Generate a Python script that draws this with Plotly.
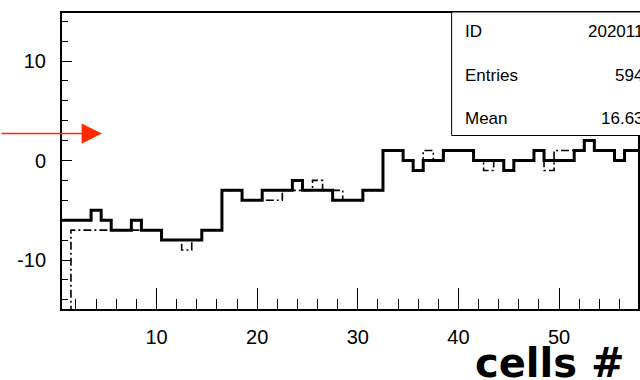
import numpy as np
import plotly.graph_objects as go

# ---- histogram contents (one value per cell, cells 1..58) ----
cells = np.arange(1, 59)
current_run = [
    -6, -6, -6, -5, -6, -7, -7, -6, -7, -7,
    -8, -8, -8, -8, -7, -7, -3, -3, -4, -4,
    -3, -3, -3, -2, -3, -3, -3, -4, -4, -4,
    -3, -3, 1, 1, 0, -1, 0, 0, 1, 1,
    1, 0, 0, 0, -1, 0, 0, 1, 0, 0,
    0, 1, 2, 1, 1, 0, 1, 1,
]
reference_run = [
    -16, -7, -7, -7, -7, -7, -7, -7, -7, -7,
    -8, -8, -9, -8, -7, -7, -3, -3, -4, -4,
    -4, -4, -3, -3, -3, -2, -3, -3, -4, -4,
    -3, -3, 1, 1, 0, -1, 1, 0, 1, 1,
    1, 0, -1, 0, -1, 0, 0, 1, -1, 1,
    1, 1, 2, 1, 1, 0, 1, 1,
]

# stat box rows
stat_names = ["ID", "Entries", "Mean"]
stat_values = ["2020110", "5940", "16.635"]

# x / y tick labels
x_ticks = [10, 20, 30, 40, 50]
y_ticks = [-10, 0, 10]
y_ticktext = ["-10", "0", "10"]

# ---- page geometry (pixels) ----
W, H = 640, 380
ML, MT, MB, MR = 62, 13, 71, 0
X0_PX, X_SCALE = 55.84, 10.1     # pixel of x=0 and pixels per cell
Y0_PX, Y_SCALE = 160.5, 9.95     # pixel of y=0 and pixels per unit


def paper_x(px):
    return (px - ML) / (W - ML - MR)


def paper_y(py):
    return (H - MB - py) / (H - MB - MT)


x_range = [(ML - X0_PX) / X_SCALE, (W - MR - X0_PX) / X_SCALE]
y_range = [(Y0_PX - (H - MB)) / Y_SCALE, (Y0_PX - MT) / Y_SCALE]


def step_outline(centers, values):
    """Bin edges and contents for an 'hv' step outline."""
    edges = np.append(centers - 0.5, centers[-1] + 0.5)
    vals = np.append(values, values[-1])
    return edges, vals


NARROW = "Liberation Sans Narrow, Liberation Sans, Arial, sans-serif"
TICK_FONT = dict(family=NARROW, size=20, color="black")
STAT_FONT = dict(family=NARROW, size=17, color="black")

fig = go.Figure()

ex, ey = step_outline(cells, np.array(reference_run, dtype=float))
fig.add_trace(go.Scatter(
    x=ex, y=ey, mode="lines", line_shape="hv",
    line=dict(color="black", width=1.6, dash="8px,3px,2px,3px"),
    hoverinfo="skip", showlegend=False,
))

sx, sy = step_outline(cells, np.array(current_run, dtype=float))
fig.add_trace(go.Scatter(
    x=sx, y=sy, mode="lines", line_shape="hv",
    line=dict(color="black", width=3),
    hoverinfo="skip", showlegend=False,
))

fig.update_xaxes(
    range=x_range, showgrid=False, zeroline=False,
    showline=True, linecolor="black", linewidth=2, mirror=True,
    ticks="inside", ticklen=21, tickwidth=1, tickcolor="black",
    tickvals=x_ticks, ticktext=[str(v) for v in x_ticks],
    tickfont=TICK_FONT, ticklabelstandoff=9,
    minor=dict(ticks="inside", ticklen=10, tickwidth=1, tickcolor="black",
               dtick=2, tick0=0, showgrid=False),
)
fig.update_yaxes(
    range=y_range, showgrid=False, zeroline=False,
    showline=True, linecolor="black", linewidth=2, mirror=True,
    ticks="inside", ticklen=10, tickwidth=1, tickcolor="black",
    tickvals=y_ticks, ticktext=y_ticktext,
    tickfont=TICK_FONT, ticklabelstandoff=10,
    minor=dict(ticks="inside", ticklen=6, tickwidth=1, tickcolor="black",
               dtick=2, tick0=0, showgrid=False),
)

# statistics box in the upper right corner
fig.add_shape(
    type="rect", xref="paper", yref="paper",
    x0=paper_x(453), x1=paper_x(720), y0=paper_y(135.5), y1=paper_y(12),
    line=dict(color="black", width=1), fillcolor="white", layer="above",
)

annotations = []
for i, (name, value) in enumerate(zip(stat_names, stat_values)):
    ypx = 32 + i * 43
    annotations.append(dict(
        text=name, xref="paper", yref="paper", x=paper_x(464), y=paper_y(ypx),
        xanchor="left", yanchor="middle", showarrow=False, font=STAT_FONT,
    ))
    annotations.append(dict(
        text=value, xref="paper", yref="paper", x=paper_x(657), y=paper_y(ypx),
        xanchor="right", yanchor="middle", showarrow=False, font=STAT_FONT,
    ))

# red marker arrow pointing into the frame
annotations.append(dict(
    text="", xref="paper", yref="paper", x=paper_x(102), y=paper_y(133.5),
    ax=-104, ay=0, axref="pixel", ayref="pixel", showarrow=True,
    arrowhead=2, arrowsize=2.7, arrowwidth=1.5, arrowcolor="#ff2a00", standoff=0,
))

# axis title
annotations.append(dict(
    text="<b>cells #</b>", xref="paper", yref="paper",
    x=paper_x(474), y=paper_y(363), xanchor="left", yanchor="middle",
    showarrow=False,
    font=dict(family="DejaVu Sans, sans-serif", size=40, color="black"),
))

fig.update_layout(
    width=W, height=H,
    margin=dict(l=ML, r=MR, t=MT, b=MB, pad=0),
    paper_bgcolor="white", plot_bgcolor="white",
    annotations=annotations,
    showlegend=False,
)

fig.write_html("out.html")
